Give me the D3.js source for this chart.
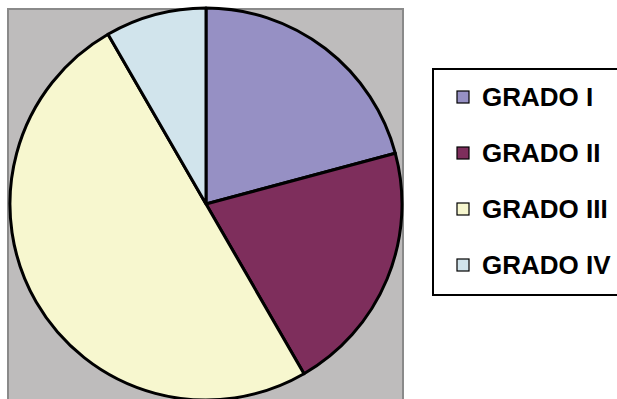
<!DOCTYPE html>
<html>
<head>
<meta charset="utf-8">
<script src="https://cdn.jsdelivr.net/npm/d3@7"></script>
<style>
  html, body { margin: 0; padding: 0; background: #ffffff; }
  svg { display: block; }
</style>
</head>
<body>
<svg id="chart" width="617" height="399"></svg>
<script>
// Distribution by grade
const categories = ["GRADO I", "GRADO II", "GRADO III", "GRADO IV"];
const values = [5, 5, 12, 2];
const sliceColors = ["#9690c4", "#7e2e5c", "#f7f7cf", "#d1e4ec"];

const svg = d3.select("#chart");

// Plot area background
svg.append("rect")
  .attr("x", 8).attr("y", 9)
  .attr("width", 395).attr("height", 400)
  .attr("fill", "#bebcbc")
  .attr("stroke", "#8a8a8a")
  .attr("stroke-width", 2);

const cx = 206, cy = 204, r = 196;

const pie = d3.pie().sort(null).value(d => d.value);
const arc = d3.arc().innerRadius(0).outerRadius(r);
const data = categories.map((c, i) => ({ name: c, value: values[i] }));
const color = d3.scaleOrdinal().domain(categories).range(sliceColors);

svg.append("g")
  .attr("transform", `translate(${cx},${cy})`)
  .selectAll("path")
  .data(pie(data))
  .join("path")
  .attr("d", arc)
  .attr("fill", d => color(d.data.name))
  .attr("stroke", "#000")
  .attr("stroke-width", 3)
  .attr("stroke-linejoin", "round");

// Legend
const legend = svg.append("g");
legend.append("rect")
  .attr("x", 433).attr("y", 69)
  .attr("width", 200).attr("height", 226)
  .attr("fill", "#ffffff")
  .attr("stroke", "#000")
  .attr("stroke-width", 2);

const rowY = d3.scalePoint().domain(categories).range([97, 265]);

const rows = legend.selectAll("g.row")
  .data(categories)
  .join("g")
  .attr("class", "row")
  .attr("transform", d => `translate(0,${rowY(d)})`);

rows.append("rect")
  .attr("x", 457).attr("y", -6)
  .attr("width", 12).attr("height", 12)
  .attr("fill", d => color(d))
  .attr("stroke", "#000")
  .attr("stroke-width", 1.2);

rows.append("text")
  .attr("x", 482).attr("y", 9)
  .attr("font-family", "'Liberation Sans', Arial, sans-serif")
  .attr("font-weight", "bold")
  .attr("font-size", 26)
  .attr("fill", "#000")
  .text(d => d);
</script>
</body>
</html>
